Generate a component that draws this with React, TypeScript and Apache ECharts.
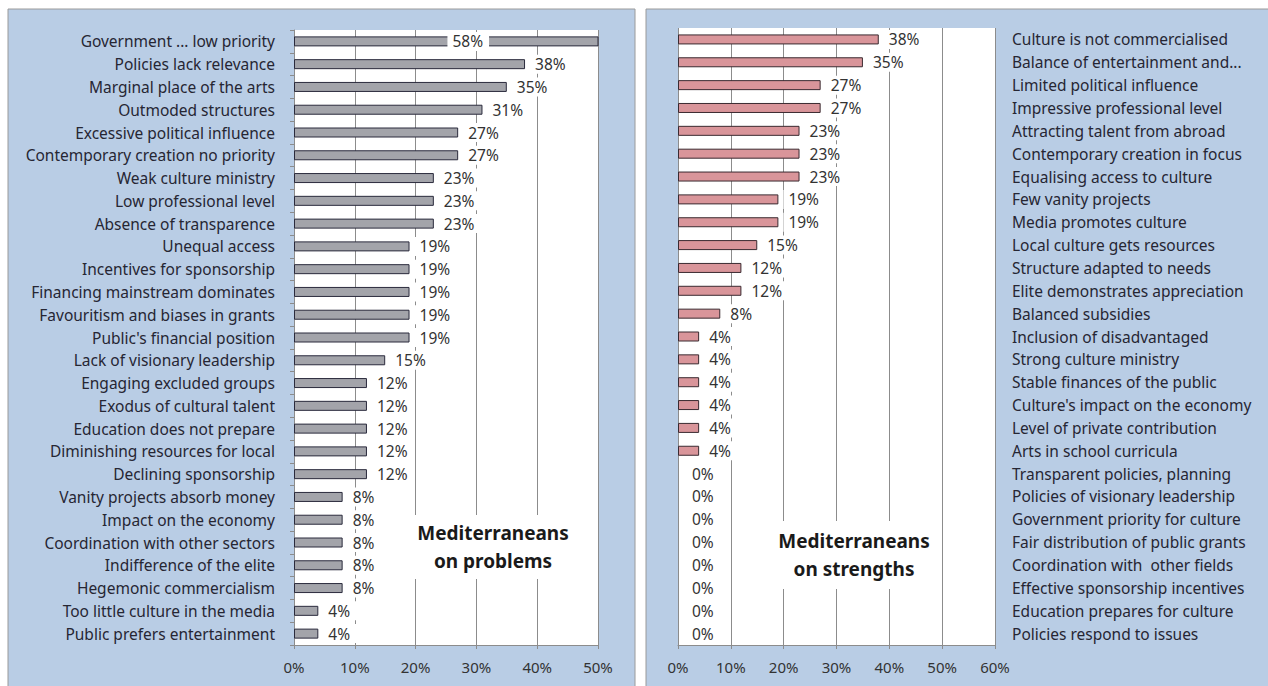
import React, { useEffect, useRef } from "react";
import * as echarts from "echarts";

const problemCategories = [
  "Government ... low priority",
  "Policies lack relevance",
  "Marginal place of the arts",
  "Outmoded structures",
  "Excessive political influence",
  "Contemporary creation no priority",
  "Weak culture ministry",
  "Low professional level",
  "Absence of transparence",
  "Unequal access",
  "Incentives for sponsorship",
  "Financing mainstream dominates",
  "Favouritism and biases in grants",
  "Public's financial position",
  "Lack of visionary leadership",
  "Engaging excluded groups",
  "Exodus of cultural talent",
  "Education does not prepare",
  "Diminishing resources for local",
  "Declining sponsorship",
  "Vanity projects absorb money",
  "Impact on the economy",
  "Coordination with other sectors",
  "Indifference of the elite",
  "Hegemonic commercialism",
  "Too little culture in the media",
  "Public prefers entertainment",
];
const problemValues = [58, 38, 35, 31, 27, 27, 23, 23, 23, 19, 19, 19, 19, 19, 15, 12, 12, 12, 12, 12, 8, 8, 8, 8, 8, 4, 4];

const strengthCategories = [
  "Culture is not commercialised",
  "Balance of entertainment and...",
  "Limited political influence",
  "Impressive professional level",
  "Attracting talent from abroad",
  "Contemporary creation in focus",
  "Equalising access to culture",
  "Few vanity projects",
  "Media promotes culture",
  "Local culture gets resources",
  "Structure adapted to needs",
  "Elite demonstrates appreciation",
  "Balanced subsidies",
  "Inclusion of disadvantaged",
  "Strong culture ministry",
  "Stable finances of the public",
  "Culture's impact on the economy",
  "Level of private contribution",
  "Arts in school curricula",
  "Transparent policies, planning",
  "Policies of visionary leadership",
  "Government priority for culture",
  "Fair distribution of public grants",
  "Coordination with  other fields",
  "Effective sponsorship incentives",
  "Education prepares for culture",
  "Policies respond to issues",
];
const strengthValues = [38, 35, 27, 27, 23, 23, 23, 19, 19, 15, 12, 12, 8, 4, 4, 4, 4, 4, 4, 0, 0, 0, 0, 0, 0, 0, 0];

const problemMax = 50;
const strengthMax = 60;
const axisInterval = 10;
const problemTitle = "Mediterraneans\non problems";
const strengthTitle = "Mediterraneans\non strengths";

const FONT = "'Noto Sans', 'Open Sans', sans-serif";

export default function App() {
  const ref = useRef<HTMLDivElement>(null);
  useEffect(() => {
    const chart = echarts.init(ref.current!, null, { renderer: "svg" });

    const valueLabel = {
      show: true,
      position: "right",
      distance: 5,
      formatter: "{c}%",
      fontFamily: FONT,
      fontSize: 15.5,
      color: "#333333",
      backgroundColor: "#ffffff",
      padding: [2, 6, 1, 5],
    };

    const buildData = (vals: number[], max: number) =>
      vals.map((v) => {
        if (v > max) {
          return { value: v, label: { position: "inside", offset: [22, 0], color: "#333333" } };
        }
        if (v === 0) {
          return { value: v, itemStyle: { borderWidth: 0 }, label: { offset: [4, 0] } };
        }
        return v;
      });

    const gridLine = { show: true, lineStyle: { color: "#8c8c8c", width: 1 } };
    const xAxisBase = {
      type: "value",
      min: 0,
      interval: axisInterval,
      axisLine: { show: true, lineStyle: { color: "#8c8c8c" } },
      axisTick: { show: true, length: 4, lineStyle: { color: "#8c8c8c" } },
      splitLine: gridLine,
      axisLabel: {
        formatter: "{value}%",
        fontFamily: FONT,
        fontSize: 15,
        color: "#333333",
        margin: 14,
      },
    };

    chart.setOption({
      animation: false,
      backgroundColor: "#ffffff",
      graphic: [
        {
          type: "rect",
          z: -10,
          shape: { x: 8, y: 9, width: 627, height: 690 },
          style: { fill: "#B9CDE5", stroke: "#9a9a9a", lineWidth: 1 },
        },
        {
          type: "rect",
          z: -10,
          shape: { x: 646, y: 9, width: 630, height: 690 },
          style: { fill: "#B9CDE5", stroke: "#9a9a9a", lineWidth: 1 },
        },
        {
          type: "text",
          z: 100,
          x: 493,
          y: 547,
          style: {
            text: problemTitle,
            fontFamily: FONT,
            fontSize: 19,
            fontWeight: "bold",
            fill: "#1a1a1a",
            align: "center",
            verticalAlign: "middle",
            lineHeight: 28,
            backgroundColor: "#ffffff",
            padding: [4, 4],
          },
        },
        {
          type: "text",
          z: 100,
          x: 854,
          y: 555,
          style: {
            text: strengthTitle,
            fontFamily: FONT,
            fontSize: 19,
            fontWeight: "bold",
            fill: "#1a1a1a",
            align: "center",
            verticalAlign: "middle",
            lineHeight: 28,
            backgroundColor: "#ffffff",
            padding: [6, 4],
          },
        },
      ],
      grid: [
        {
          left: 294,
          width: 304,
          top: 30,
          bottom: 41,
          show: true,
          backgroundColor: "#ffffff",
          borderWidth: 0,
        },
        {
          left: 678,
          width: 317,
          top: 28,
          bottom: 41,
          show: true,
          backgroundColor: "#ffffff",
          borderWidth: 0,
        },
      ],
      xAxis: [
        { ...xAxisBase, gridIndex: 0, max: problemMax },
        { ...xAxisBase, gridIndex: 1, max: strengthMax },
      ],
      yAxis: [
        {
          type: "category",
          gridIndex: 0,
          inverse: true,
          data: problemCategories,
          axisLine: { show: true, lineStyle: { color: "#8c8c8c" } },
          axisTick: { show: true, length: 4, inside: false, lineStyle: { color: "#8c8c8c" } },
          axisLabel: {
            fontFamily: FONT,
            fontSize: 15.5,
            color: "#262633",
            margin: 19,
            interval: 0,
          },
        },
        {
          type: "category",
          gridIndex: 1,
          inverse: true,
          position: "right",
          data: strengthCategories,
          axisLine: { show: false },
          axisTick: { show: false },
          axisLabel: {
            fontFamily: FONT,
            fontSize: 15.5,
            color: "#262633",
            margin: 17,
            align: "left",
            interval: 0,
          },
        },
      ],
      series: [
        {
          type: "bar",
          xAxisIndex: 0,
          yAxisIndex: 0,
          data: buildData(problemValues, problemMax),
          barWidth: 10,
          itemStyle: { color: "#A3A4AA", borderColor: "#2a2a3c", borderWidth: 1 },
          label: valueLabel,
          z: 5,
        },
        {
          type: "bar",
          xAxisIndex: 1,
          yAxisIndex: 1,
          data: buildData(strengthValues, strengthMax),
          barWidth: 10,
          itemStyle: { color: "#D9959A", borderColor: "#3a2a30", borderWidth: 1 },
          label: valueLabel,
          z: 5,
        },
      ],
    });
    return () => chart.dispose();
  }, []);
  return (
    <div
      ref={ref}
      style={{ position: "fixed", left: 0, top: 0, width: 1268, height: 686 }}
    />
  );
}
